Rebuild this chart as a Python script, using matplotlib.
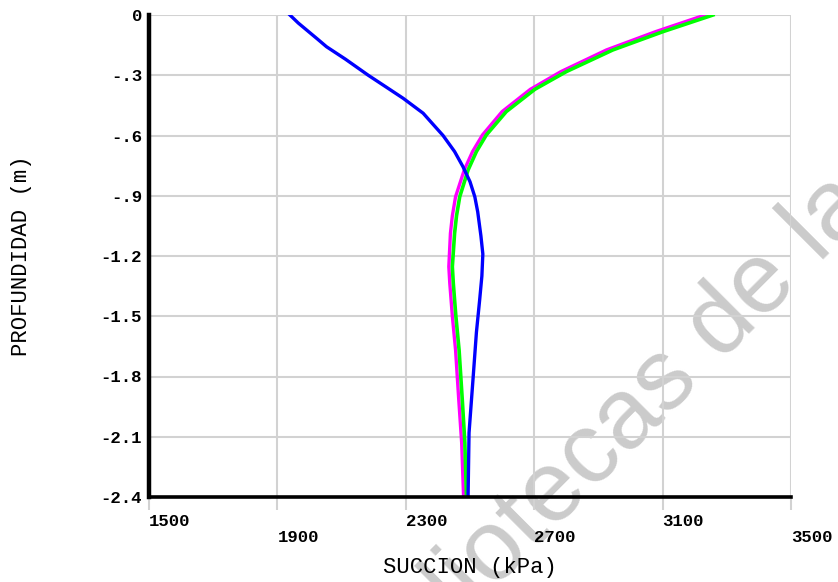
import numpy as np
import matplotlib
matplotlib.use('Agg')
import matplotlib.pyplot as plt

# suction profiles vs depth
depth_blue = [0.0, -0.04, -0.08, -0.12, -0.158, -0.22, -0.30, -0.36, -0.415, -0.489,
              -0.55, -0.60, -0.68, -0.755, -0.83, -0.905, -0.98, -1.1, -1.19, -1.3,
              -1.42, -1.58, -1.80, -2.08, -2.4]
succ_blue = [1939, 1965, 1995, 2025, 2053, 2112, 2183, 2240, 2292, 2354,
             2388, 2416, 2452, 2478, 2500, 2515, 2524, 2534, 2540, 2537,
             2530, 2520, 2510, 2497, 2494]

depth_green = [0.0, -0.083, -0.174, -0.282, -0.37, -0.481, -0.597, -0.68, -0.772, -0.905,
               -1.0, -1.087, -1.253, -1.336, -1.50, -1.668, -1.917, -2.13, -2.4]
succ_green = [3257, 3101, 2945, 2800, 2702, 2613, 2551, 2520, 2494, 2468,
              2458, 2452, 2445, 2448, 2456, 2466, 2476, 2484, 2489]
succ_magenta = [3232, 3078, 2925, 2783, 2688, 2600, 2539, 2508, 2482, 2455,
                2445, 2439, 2434, 2437, 2445, 2455, 2465, 2474, 2480]

xticks = [1500, 1900, 2300, 2700, 3100, 3500]
yticks = [0, -0.3, -0.6, -0.9, -1.2, -1.5, -1.8, -2.1, -2.4]
ylabels = ['0', '-.3', '-.6', '-.9', '-1.2', '-1.5', '-1.8', '-2.1', '-2.4']

W, H = 838, 582
fig = plt.figure(figsize=(W/100, H/100), dpi=100)
ax = fig.add_axes([149/W, 1-497/H, (791-149)/W, (497-15)/H])
ax.patch.set_alpha(0)

ax.plot(succ_magenta, depth_green, color='#ff00ff', lw=2.4, zorder=3)
ax.plot(succ_green, depth_green, color='#00ff00', lw=2.6, zorder=4)
ax.plot(succ_blue, depth_blue, color='#0000ff', lw=2.4, zorder=5)

ax.set_xlim(1500, 3500)
ax.set_ylim(-2.4, 0)
ax.set_xticks(xticks)
ax.set_yticks(yticks)
ax.grid(True, color='#d2d2d2', lw=1.5)
ax.set_axisbelow(True)

for s in ['top', 'right']:
    ax.spines[s].set_visible(False)
ax.spines['left'].set_linewidth(3.2)
ax.spines['bottom'].set_linewidth(2.6)
ax.spines['left'].set_zorder(6)
ax.spines['bottom'].set_zorder(6)

tfont = dict(family='Liberation Mono', weight='bold', size=12.5)
xl = [str(v) if i % 2 == 0 else '\n' + str(v) for i, v in enumerate(xticks)]
ax.set_xticklabels(xl, ha='left', va='top', **tfont)
ax.set_yticklabels(ylabels, **tfont)
ax.tick_params(axis='x', direction='out', length=9, width=1.5, color='#d2d2d2', pad=3)
ax.tick_params(axis='y', length=0, pad=5)
for lab in ax.get_xticklabels():
    lab.set_linespacing(1.15)

lfont = dict(family='Liberation Mono', size=16)
fig.text(470/W, 1-568/H, 'SUCCION (kPa)', ha='center', va='center', **lfont)
fig.text(22/W, 1-256/H, 'PROFUNDIDAD (m)', ha='center', va='center', rotation=90, **lfont)

# watermark, under everything
fig.text(367/W, 1-716/H, 'bibliotecas de la', rotation=45, rotation_mode='anchor',
         ha='left', va='baseline', family='Liberation Sans', size=72,
         color='#cbcbcb', zorder=-1)

fig.savefig('out.png', dpi=100)
